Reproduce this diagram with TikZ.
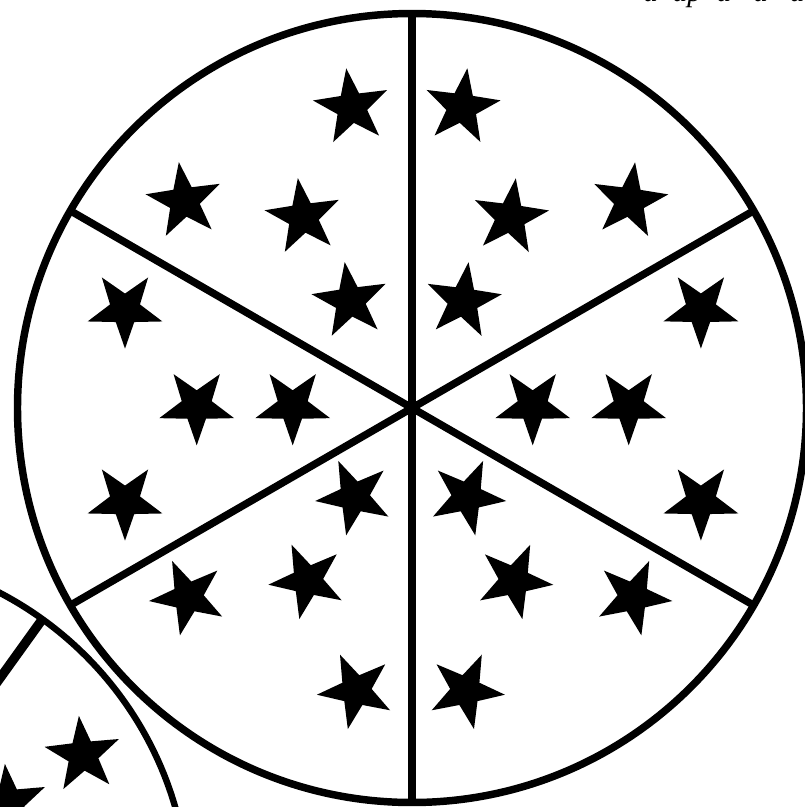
\documentclass[tikz,border=0pt]{standalone}
\usepackage{fontspec}
\setmainfont{Liberation Serif}
\usetikzlibrary{shapes.geometric}
\tikzset{
  starnode/.style={star, star points=5, star point ratio=2.5, minimum size=59pt, inner sep=0pt, outer sep=0pt, fill=black, draw=none},
  rim/.style={draw=black, line width=5.6pt},
  spoke/.style={draw=black, line width=5.6pt},
  bigspoke/.style={draw=black, line width=7pt},
}
\begin{document}
\begin{tikzpicture}[x=0.75pt, y=-0.75pt]
\useasboundingbox (0,0) rectangle (805,807);
\clip (0,0) rectangle (805,807);
\fill[white] (0,0) rectangle (805,807);
% cut-off caption at the top
\node[anchor=base west, inner sep=0pt, font=\itshape\fontsize{22}{26}\selectfont] (cap) at (643,1) {a\ \ ap\ \ a\ \ \ a\ \ \ a};
% main pie
\coordinate (c) at (412,408);
\draw[rim] (c) circle[radius=394.5];
\foreach \a in {30,90,150,210,270,330}
  \draw[spoke] (c) -- ++(\a:396);
% stars, upper left sector
\foreach \p/\n in {{351.7,107.3}/1,{184.3,201.1}/2,{303.3,217.1}/3,{350.2,301}/4}
  \node[starnode, rotate=8] (s\n) at (\p) {};
% upper right sector
\foreach \p/\n in {{461.9,107.2}/5,{510.3,217.3}/6,{629.6,201.2}/7,{463.1,301.1}/8}
  \node[starnode, rotate=-8] (s\n) at (\p) {};
% left sector
\foreach \p/\n in {{125,309.3}/9,{196.7,406}/10,{292.7,406}/11,{125,501.3}/12}
  \node[starnode, rotate=180] (s\n) at (\p) {};
% right sector
\foreach \p/\n in {{700.9,309.2}/13,{532.7,406}/14,{628.7,406}/15,{700.9,501.3}/16}
  \node[starnode, rotate=180] (s\n) at (\p) {};
% lower left sector
\foreach \p/\n in {{354.3,496.9}/17,{188.1,596.9}/18,{307.5,580.6}/19,{356,690.6}/20}
  \node[starnode, rotate=24] (s\n) at (\p) {};
% lower right sector
\foreach \p/\n in {{467.1,496.9}/21,{514.2,580.7}/22,{633.2,596.9}/23,{465.8,690.6}/24}
  \node[starnode, rotate=-24] (s\n) at (\p) {};
% second pie, mostly outside the picture
\coordinate (c2) at (-163,905);
\draw[rim, line width=4.8pt] (c2) circle[radius=352];
\draw[bigspoke] (c2) -- ++(-54.3:353);
\node[starnode, rotate=6] (t1) at (83,755) {};
\node[starnode, rotate=6] (t2) at (9,803) {};
\end{tikzpicture}
\end{document}
